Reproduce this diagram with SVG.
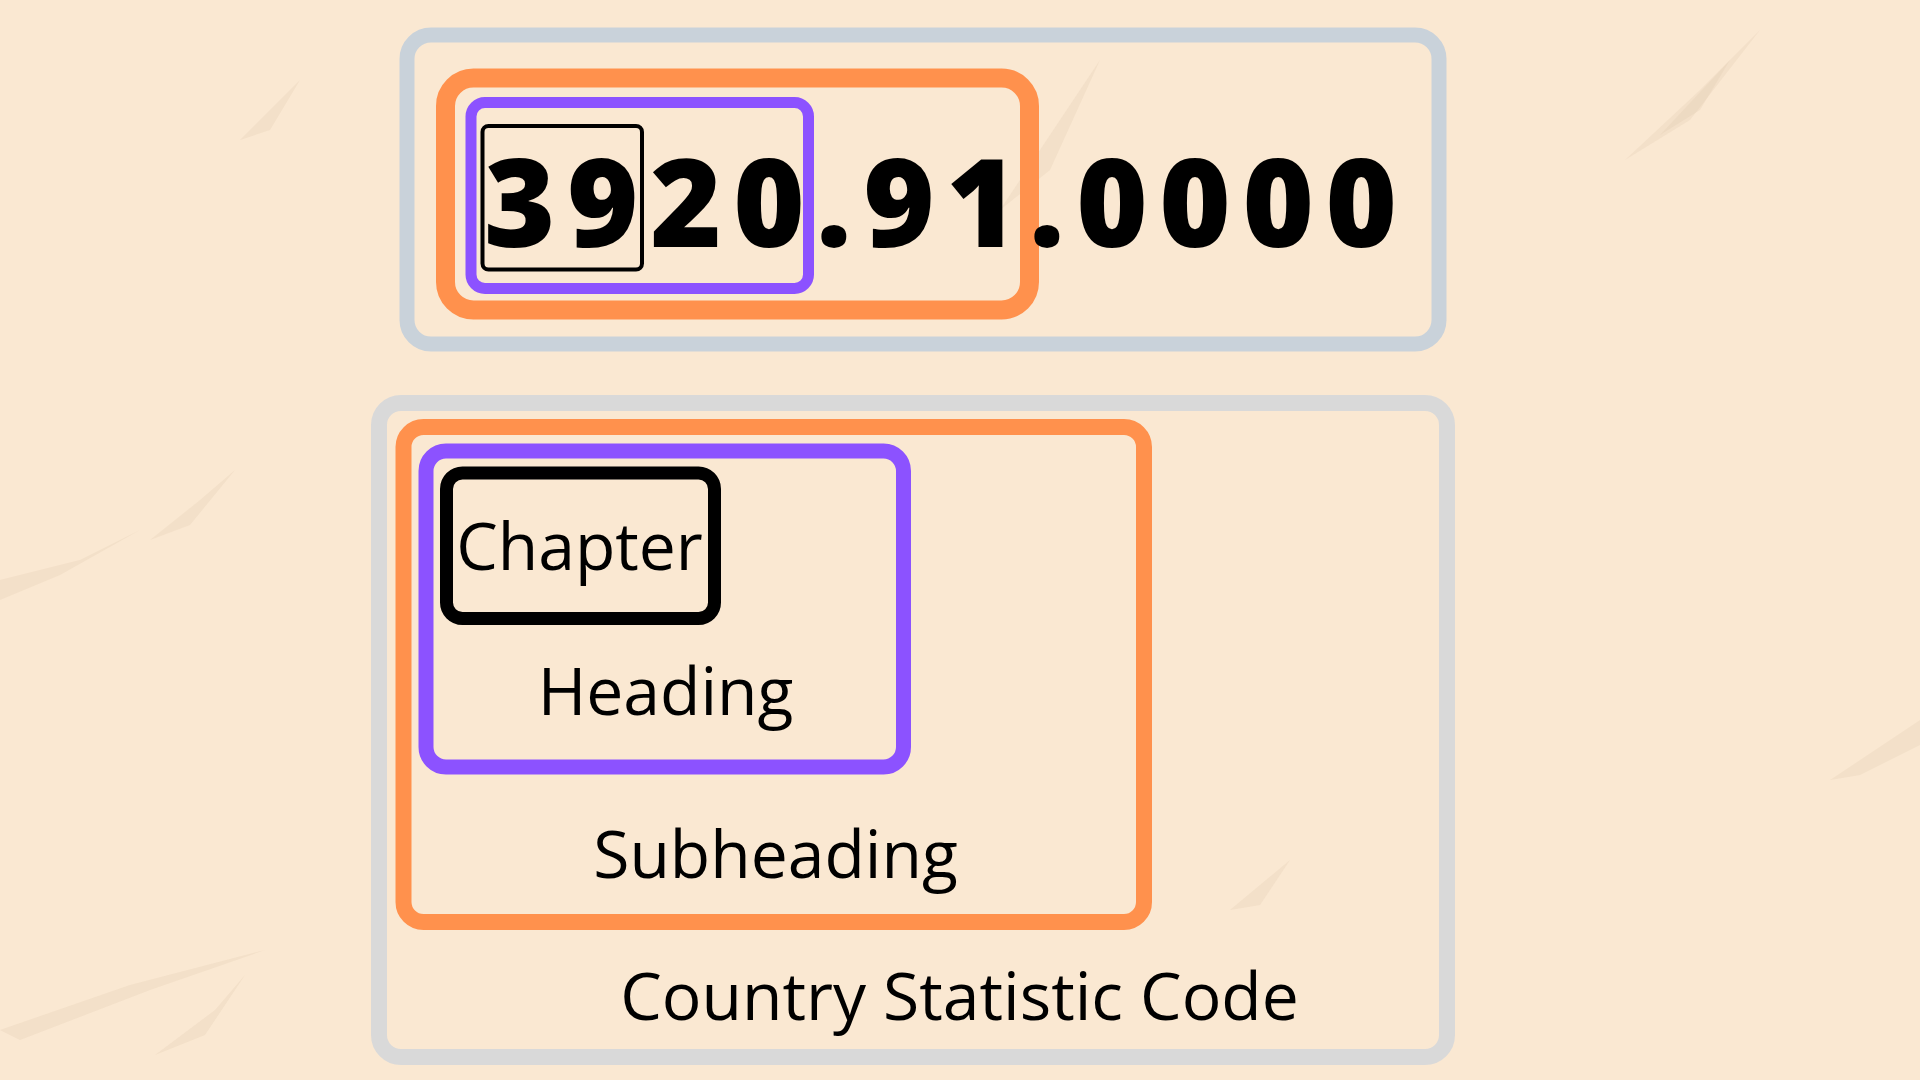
<svg xmlns="http://www.w3.org/2000/svg" width="1920" height="1080" viewBox="0 0 1920 1080">
  <style>
    .box { fill: none; }
    .gray1 { stroke: #c9d2da; stroke-width: 15; }
    .gray2 { stroke: #d9d9d9; stroke-width: 16; }
    .orange { stroke: #ff914d; }
    .purple { stroke: #8c52ff; }
    .black { stroke: #000000; }
    .label { font-family: "Open Sans", "Noto Sans", "Liberation Sans", sans-serif; font-size: 66px; fill: #000000; text-anchor: middle; }
    .code { font-family: "Open Sans", "Noto Sans", "Liberation Sans", sans-serif; font-size: 122px; font-weight: 800; fill: #000000; letter-spacing: 11.6px; }
    .streak { fill: #dcc3a8; opacity: 0.22; }
  </style>
  <rect x="0" y="0" width="1920" height="1080" fill="#fae8d2"/>
  <g id="texture">
    <polygon class="streak" points="0,1030 130,985 265,950 150,990 20,1040"/>
    <polygon class="streak" points="155,1055 215,1010 245,975 205,1035"/>
    <polygon class="streak" points="0,580 80,560 140,530 60,575 0,600"/>
    <polygon class="streak" points="150,540 200,500 235,470 190,525"/>
    <polygon class="streak" points="1625,160 1700,90 1760,30 1690,120"/>
    <polygon class="streak" points="1660,135 1730,60 1700,110"/>
    <polygon class="streak" points="1830,780 1890,740 1920,720 1920,745 1860,775"/>
    <polygon class="streak" points="1000,210 1060,120 1100,60 1050,170"/>
    <polygon class="streak" points="240,140 280,100 300,80 270,130"/>
    <polygon class="streak" points="1230,910 1290,860 1260,905"/>
  </g>
  <g id="code-panel">
    <rect class="box gray1" x="407" y="35" width="1032" height="309" rx="24"/>
  </g>
  <g id="subheading-code">
    <rect class="box orange" x="445.5" y="78" width="584" height="232" rx="28" stroke-width="19"/>
  </g>
  <g id="heading-code">
    <rect class="box purple" x="471" y="102.5" width="337.5" height="186" rx="14" stroke-width="11"/>
  </g>
  <g id="chapter-code">
    <rect class="box black" x="482.5" y="126" width="159.5" height="143.5" rx="6" stroke-width="4"/>
  </g>
  <g id="code-number">
    <text class="code" x="484" y="247">3920.91.0000</text>
  </g>
  <g id="country-statistic-code">
    <rect class="box gray2" x="379" y="403" width="1068" height="654" rx="22"/>
    <text class="label" x="959.5" y="1020">Country Statistic Code</text>
  </g>
  <g id="subheading">
    <rect class="box orange" x="403.5" y="427" width="740.5" height="495" rx="20" stroke-width="16"/>
    <text class="label" x="775.5" y="878">Subheading</text>
  </g>
  <g id="heading">
    <rect class="box purple" x="426" y="451" width="477.5" height="316" rx="20" stroke-width="15"/>
    <text class="label" x="665.5" y="715">Heading</text>
  </g>
  <g id="chapter">
    <rect class="box black" x="446.5" y="473" width="268" height="145.5" rx="16" stroke-width="13"/>
    <text class="label" x="579.5" y="570">Chapter</text>
  </g>
  <g id="connectors"></g>
</svg>
